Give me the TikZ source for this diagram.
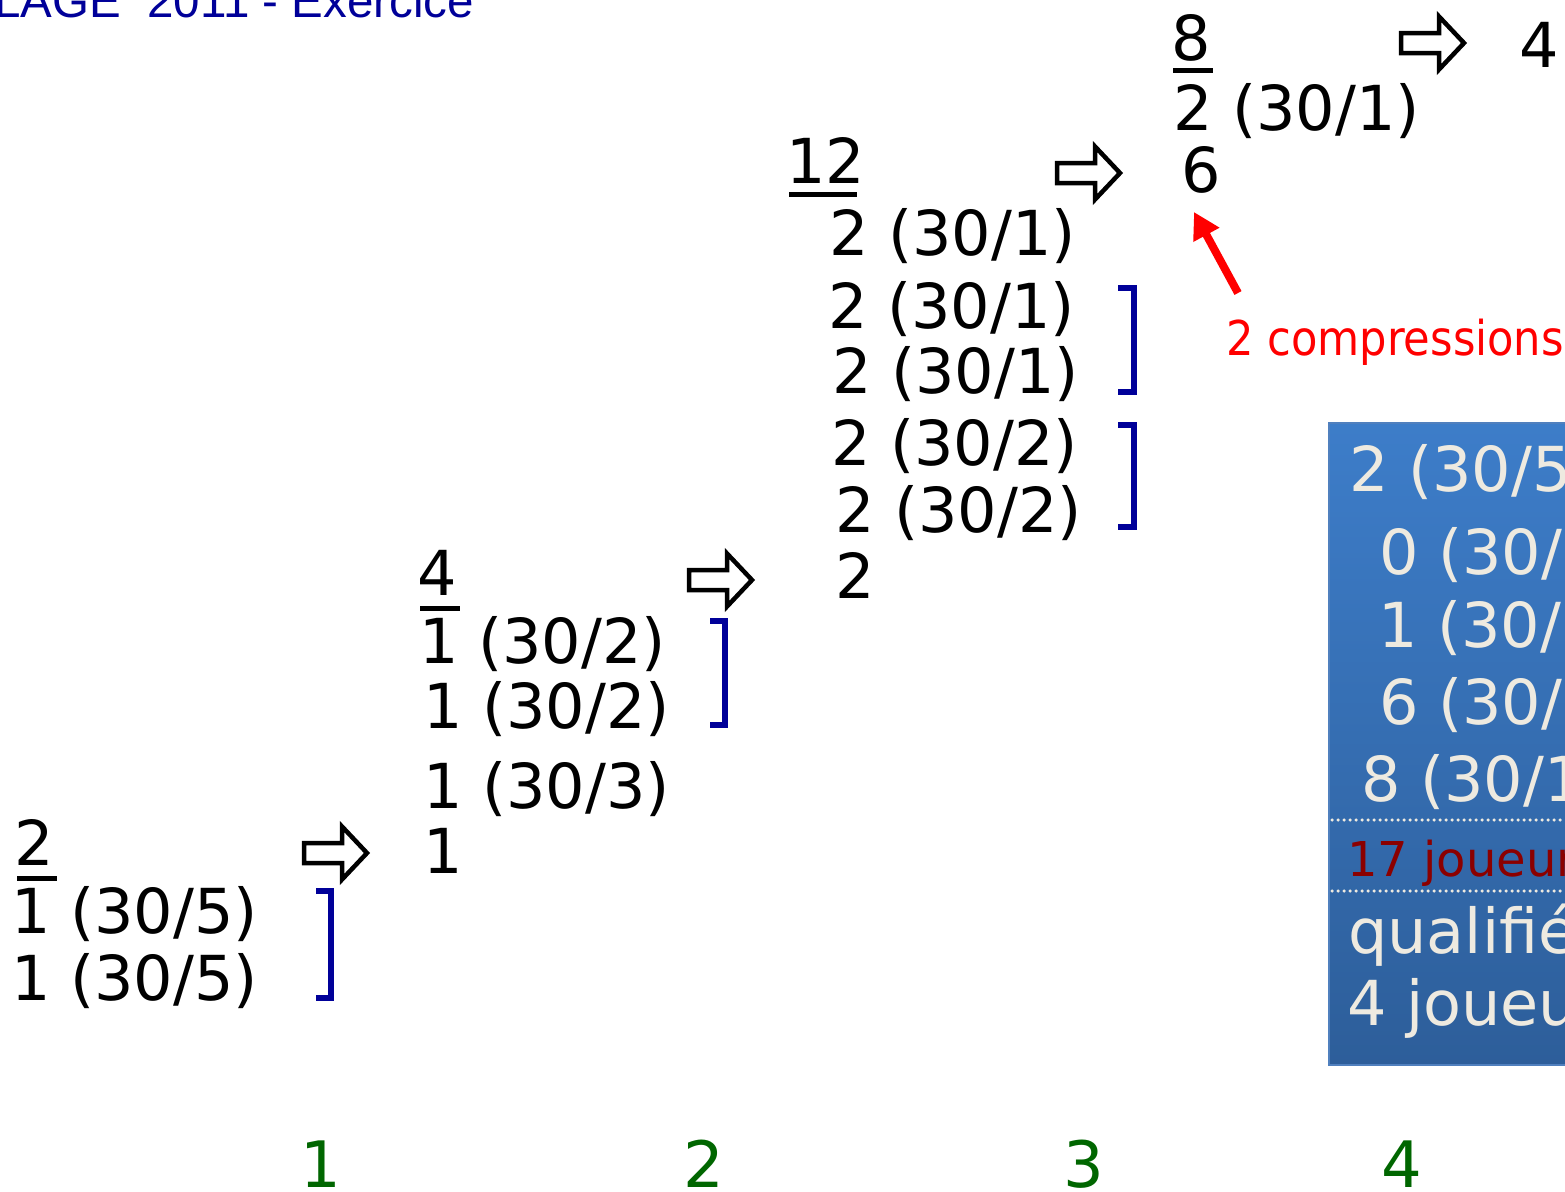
\documentclass[tikz,border=0pt]{standalone}
\usepackage{fontspec}
\usepackage{graphicx}
\setmainfont{DejaVu Sans}
\newfontfamily\titlefont{Liberation Sans}
\usetikzlibrary{arrows.meta}
\definecolor{dblue}{RGB}{0,0,153}
\definecolor{dgreen}{RGB}{0,102,0}
\definecolor{dred}{RGB}{139,0,0}
\definecolor{cream}{RGB}{238,234,224}
\definecolor{boxtop}{RGB}{61,125,201}
\definecolor{boxbot}{RGB}{45,94,154}
\definecolor{boxedge}{RGB}{80,128,190}
\tikzset{
  txt/.style={anchor=base west, inner sep=0pt, font=\fontsize{62}{72}\selectfont},
  boxtxt/.style={txt, text=cream},
  smalltxt/.style={anchor=base west, inner sep=0pt, font=\fontsize{48}{56}\selectfont},
  colnum/.style={anchor=base, inner sep=0pt, text=dgreen, font=\fontsize{64}{72}\selectfont},
  uline/.style={line width=5pt},
  bracketline/.style={draw=dblue, line width=6pt},
  dotline/.style={draw=cream, line width=3.5pt, dash pattern=on 0pt off 6pt, line cap=round},
  blockarrow/.pic={\draw[line width=4.5pt, fill=white, line join=miter]
      (2,-10) -- (40,-10) -- (40,-26.5) -- (65,0) -- (40,26.5) -- (40,10) -- (2,10) -- cycle;}
}
\begin{document}
\begin{tikzpicture}[x=1pt,y=-1pt]
\useasboundingbox (0,0) rectangle (1565,1191);
\clip (0,0) rectangle (1565,1191);
\fill[white] (0,0) rectangle (1565,1191);

% title
\node[anchor=base west, inner sep=0pt, text=dblue, font=\titlefont\fontsize{47.5}{50}\selectfont] (title) at (-6,17) {LAGE\ \ 2011 - Exercice};

% column 1
\node[txt] (c1t) at (14,865) {2};
\draw[uline] (17,878) -- (57,878);
\node[txt] (c1a) at (11,933) {1 (30/5)};
\node[txt] (c1b) at (11,1000) {1 (30/5)};
\draw[bracketline] (316,891) -- (331,891) -- (331,998) -- (316,998);
\pic at (302,853) {blockarrow};

% column 2
\node[txt] (c2t) at (417,595) {4};
\draw[uline] (420,608) -- (460,608);
\node[txt] (c2a) at (419,663) {1 (30/2)};
\node[txt] (c2b) at (423,728) {1 (30/2)};
\node[txt] (c2c) at (423,808) {1 (30/3)};
\node[txt] (c2d) at (423,873) {1};
\draw[bracketline] (710,621) -- (725,621) -- (725,725) -- (710,725);
\pic at (687,580) {blockarrow};

% column 3
\node[txt] (c3t) at (786,183) {12};
\draw[uline] (789,194.5) -- (857,194.5);
\node[txt] (c3a) at (829,255) {2 (30/1)};
\node[txt] (c3b) at (828,328) {2 (30/1)};
\node[txt] (c3c) at (832,393) {2 (30/1)};
\node[txt] (c3d) at (831,465) {2 (30/2)};
\node[txt] (c3e) at (835,532) {2 (30/2)};
\node[txt] (c3f) at (835,598) {2};
\draw[bracketline] (1118,288) -- (1134,288) -- (1134,392) -- (1118,392);
\draw[bracketline] (1118,425) -- (1134,425) -- (1134,527) -- (1118,527);
\pic at (1055,173) {blockarrow};

% column 4
\node[txt] (c4t) at (1171,60) {8};
\draw[uline] (1173,70.5) -- (1213,70.5);
\node[txt] (c4a) at (1173,130) {2 (30/1)};
\node[txt] (c4b) at (1181,192) {6};
\node[txt] (c4r) at (1519,67) {4};
\pic at (1399,43) {blockarrow};

% red annotation
\node[smalltxt, text=red] (comp) at (1226,355) {\scalebox{0.9}[1]{2 compressions}};
\coordinate (rtail) at (1238,293);
\coordinate (rtip) at (1194,212);
\draw[red, line width=8pt, -{Triangle[length=26pt,width=28pt]}] (rtail) -- (rtip);

% blue box
\shade[top color=boxtop, bottom color=boxbot, draw=boxedge, line width=1.5pt] (1329,423) rectangle (1580,1065);
\node[boxtxt] (b1) at (1349,491) {2 (30/5)};
\node[boxtxt] (b2) at (1379,574) {0 (30/4)};
\node[boxtxt] (b3) at (1378,647) {1 (30/3)};
\node[boxtxt] (b4) at (1379,724) {6 (30/2)};
\node[boxtxt] (b5) at (1361,801) {8 (30/1)};
\draw[dotline] (1332,820) -- (1565,820);
\node[smalltxt, text=dred] (b6) at (1347,876) {17 joueurs};
\draw[dotline] (1332,891) -- (1565,891);
\node[boxtxt] (b7) at (1348,953) {qualifiés};
\node[boxtxt] (b8) at (1347,1025) {4 joueurs};

% column numbers
\node[colnum] (n1) at (321,1187) {1};
\node[colnum] (n2) at (704,1187) {2};
\node[colnum] (n3) at (1084,1187) {3};
\node[colnum] (n4) at (1402,1187) {4};
\end{tikzpicture}
\end{document}
